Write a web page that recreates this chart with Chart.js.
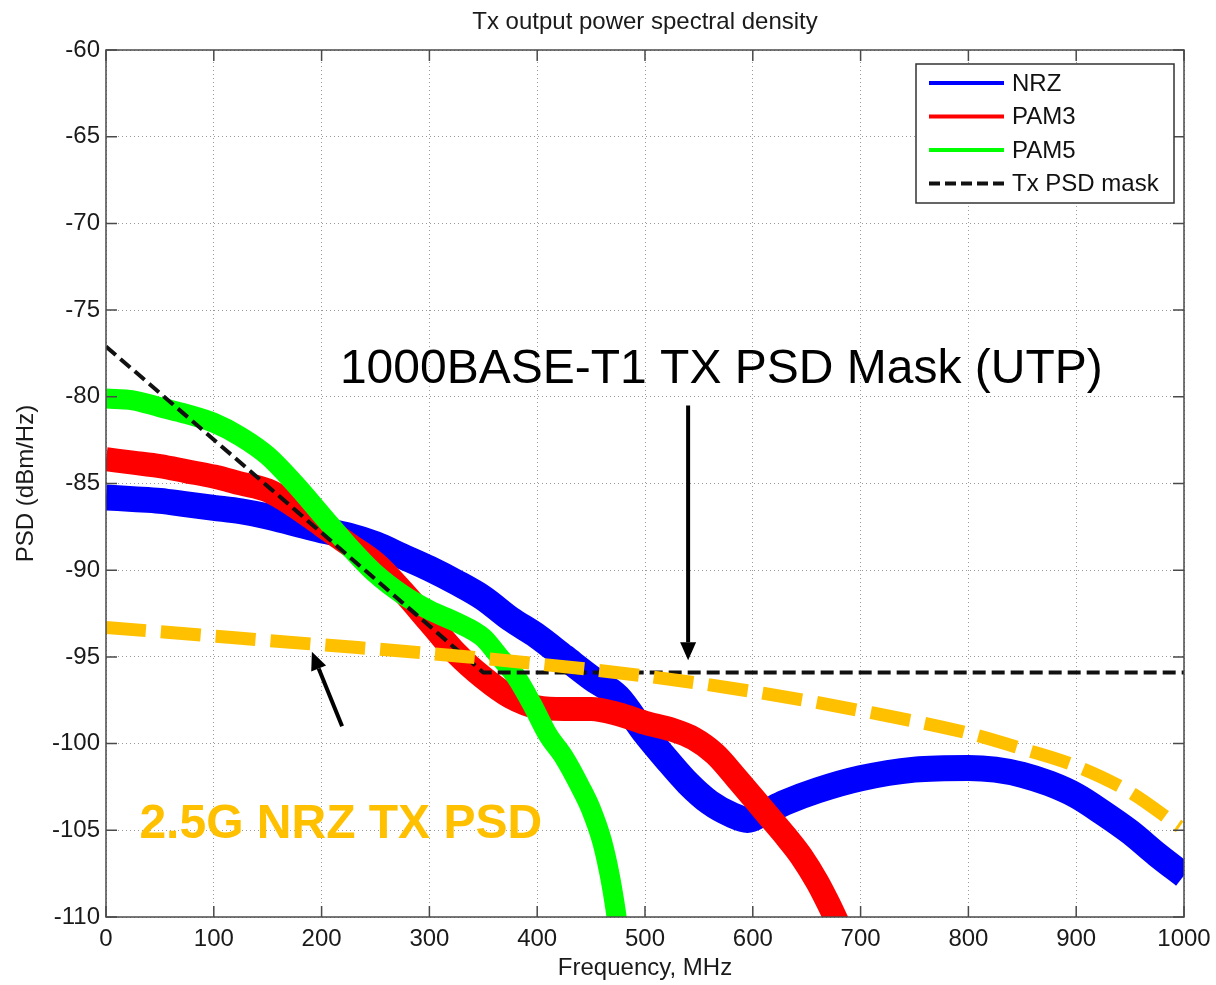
<!DOCTYPE html>
<html>
<head>
<meta charset="utf-8">
<title>Tx output power spectral density</title>
<script src="https://cdn.jsdelivr.net/npm/chart.js@4.4.1/dist/chart.umd.min.js"></script>
<style>
  body { margin: 0; background: #fff; }
  #wrap { width: 1216px; height: 985px; }
</style>
</head>
<body>
<div id="wrap"><canvas id="psdChart" width="1216" height="985"></canvas></div>
<script>
// values (MHz, dBm/Hz)
const nrzFreq = [0, 25, 50, 75, 100, 125, 150, 175, 200, 225, 250, 275, 300, 325, 350, 375, 400, 425, 450, 475, 500, 520, 540, 560, 580, 595, 610, 630, 660, 700, 750, 800, 825, 850, 875, 900, 925, 950, 975, 1000];
const nrzPsd  = [-85.8, -85.9, -86.0, -86.2, -86.4, -86.6, -86.9, -87.3, -87.7, -88.0, -88.5, -89.2, -89.9, -90.7, -91.6, -92.8, -93.8, -95.0, -96.2, -97.3, -99.4, -100.9, -102.3, -103.4, -104.1, -104.4, -104.0, -103.4, -102.7, -102.0, -101.5, -101.4, -101.5, -101.8, -102.3, -103.0, -104.0, -105.1, -106.4, -107.6];

const pam3Freq = [0, 25, 50, 75, 100, 125, 150, 175, 200, 225, 250, 275, 300, 325, 350, 375, 400, 425, 450, 475, 500, 525, 545, 565, 585, 600, 615, 630, 645, 660, 670, 680, 688];
const pam3Psd  = [-83.6, -83.8, -84.0, -84.3, -84.6, -85.0, -85.4, -86.3, -87.4, -88.5, -89.6, -91.2, -93.0, -94.8, -96.2, -97.3, -97.9, -98.0, -98.0, -98.3, -98.8, -99.2, -99.7, -100.6, -102.0, -103.1, -104.2, -105.3, -106.5, -108.0, -109.2, -110.5, -111.5];

const pam5Freq = [0, 25, 50, 75, 100, 125, 150, 175, 200, 225, 250, 275, 300, 325, 350, 365, 380, 395, 410, 425, 440, 450, 460, 467, 472, 477];
const pam5Psd  = [-80.1, -80.2, -80.6, -81.0, -81.5, -82.3, -83.4, -85.0, -86.8, -88.6, -90.2, -91.4, -92.3, -93.0, -93.9, -95.0, -96.1, -97.7, -99.5, -100.8, -102.5, -103.8, -105.6, -107.5, -109.3, -111.5];

const maskFreq = [0, 350, 1000];
const maskPsd  = [-77.1, -95.9, -95.9];

const nrz25Freq = [0, 100, 200, 300, 400, 500, 600, 700, 800, 850, 900, 950, 996];
const nrz25Psd  = [-93.3, -93.8, -94.3, -94.8, -95.4, -96.1, -97.0, -98.1, -99.4, -100.3, -101.3, -102.8, -104.8];

const xTicks = [0, 1000, 100];
const yTicks = [-110, -60, 5];

const FONT = "'Liberation Sans', Arial, Helvetica, sans-serif";

function pts(xs, ys) {
    return xs.map((x, i) => ({ x: x, y: ys[i] }));
}

function drawArrow(ctx, x1, y1, x2, y2) {
    const ang = Math.atan2(y2 - y1, x2 - x1);
    const head = 18, half = 8;
    const bx = x2 - head * Math.cos(ang);
    const by = y2 - head * Math.sin(ang);
    ctx.strokeStyle = '#000';
    ctx.fillStyle = '#000';
    ctx.lineWidth = 4;
    ctx.beginPath();
    ctx.moveTo(x1, y1);
    ctx.lineTo(bx, by);
    ctx.stroke();
    ctx.beginPath();
    ctx.moveTo(x2, y2);
    ctx.lineTo(bx + half * Math.sin(ang), by - half * Math.cos(ang));
    ctx.lineTo(bx - half * Math.sin(ang), by + half * Math.cos(ang));
    ctx.closePath();
    ctx.fill();
}

// box, inward ticks, legend and the two call-outs
const decorPlugin = {
    id: 'decor',
    afterDraw(chart) {
        const ctx = chart.ctx;
        const a = chart.chartArea;
        const xs = chart.scales.x;
        const ys = chart.scales.y;

        ctx.save();

        // title
        ctx.fillStyle = '#1a1a1a';
        ctx.font = '24px ' + FONT;
        ctx.textAlign = 'center';
        ctx.textBaseline = 'middle';
        ctx.fillText('Tx output power spectral density', (a.left + a.right) / 2, 22);

        // frame
        ctx.strokeStyle = '#4a4a4a';
        ctx.lineWidth = 1.5;
        ctx.strokeRect(a.left, a.top, a.right - a.left, a.bottom - a.top);

        // inward ticks on all four sides
        const tl = 11;
        ctx.beginPath();
        for (let v = xTicks[0]; v <= xTicks[1]; v += xTicks[2]) {
            const px = xs.getPixelForValue(v);
            ctx.moveTo(px, a.bottom); ctx.lineTo(px, a.bottom - tl);
            ctx.moveTo(px, a.top); ctx.lineTo(px, a.top + tl);
        }
        for (let v = yTicks[0]; v <= yTicks[1]; v += yTicks[2]) {
            const py = ys.getPixelForValue(v);
            ctx.moveTo(a.left, py); ctx.lineTo(a.left + tl, py);
            ctx.moveTo(a.right, py); ctx.lineTo(a.right - tl, py);
        }
        ctx.stroke();

        // legend
        const lx = 916, ly = 64, lw = 258, lh = 139;
        ctx.fillStyle = '#fff';
        ctx.fillRect(lx, ly, lw, lh);
        ctx.strokeStyle = '#333';
        ctx.lineWidth = 1.5;
        ctx.strokeRect(lx, ly, lw, lh);

        const items = chart.data.datasets.filter(d => d.inLegend).sort((p, q) => p.legendPos - q.legendPos);
        items.forEach((d, i) => {
            const cy = 83 + i * 33.5;
            ctx.strokeStyle = d.borderColor;
            ctx.lineWidth = 4;
            ctx.setLineDash(d.borderDash ? [11, 5] : []);
            ctx.beginPath();
            ctx.moveTo(929, cy); ctx.lineTo(1004, cy);
            ctx.stroke();
            ctx.setLineDash([]);
            ctx.fillStyle = '#111';
            ctx.font = '24px ' + FONT;
            ctx.textAlign = 'left';
            ctx.textBaseline = 'middle';
            ctx.fillText(d.label, 1012, cy + 1);
        });

        // call-outs
        ctx.fillStyle = '#000';
        ctx.font = '48px ' + FONT;
        ctx.textAlign = 'left';
        ctx.textBaseline = 'alphabetic';
        ctx.fillText('1000BASE-T1 TX PSD Mask (UTP)', xs.getPixelForValue(217), ys.getPixelForValue(-79.2));

        ctx.fillStyle = '#FFC000';
        ctx.font = 'bold 48px ' + FONT;
        ctx.fillText('2.5G NRZ TX PSD', xs.getPixelForValue(31), ys.getPixelForValue(-105.45));

        drawArrow(ctx, xs.getPixelForValue(540), ys.getPixelForValue(-80.5),
                       xs.getPixelForValue(540), ys.getPixelForValue(-95.2));
        drawArrow(ctx, xs.getPixelForValue(219), ys.getPixelForValue(-99.0),
                       xs.getPixelForValue(191), ys.getPixelForValue(-94.7));

        ctx.restore();
    }
};

const ctx = document.getElementById('psdChart').getContext('2d');

new Chart(ctx, {
    type: 'line',
    data: {
        datasets: [
            {
                label: '2.5G NRZ TX PSD', data: pts(nrz25Freq, nrz25Psd),
                borderColor: '#FFC000', borderWidth: 13, borderDash: [40, 15], borderCapStyle: 'butt',
                cubicInterpolationMode: 'monotone', order: 0, inLegend: false
            },
            {
                label: 'Tx PSD mask', data: pts(maskFreq, maskPsd),
                borderColor: '#111', borderWidth: 4, borderDash: [13, 6], borderCapStyle: 'butt',
                tension: 0, order: 1, inLegend: true, legendPos: 3
            },
            {
                label: 'PAM5', data: pts(pam5Freq, pam5Psd),
                borderColor: '#00FF00', borderWidth: 20, cubicInterpolationMode: 'monotone',
                order: 2, inLegend: true, legendPos: 2
            },
            {
                label: 'PAM3', data: pts(pam3Freq, pam3Psd),
                borderColor: '#FF0000', borderWidth: 24, cubicInterpolationMode: 'monotone',
                order: 3, inLegend: true, legendPos: 1
            },
            {
                label: 'NRZ', data: pts(nrzFreq, nrzPsd),
                borderColor: '#0000FF', borderWidth: 26, cubicInterpolationMode: 'monotone',
                order: 4, inLegend: true, legendPos: 0
            }
        ]
    },
    options: {
        responsive: false,
        animation: false,
        clip: 0,
        elements: { point: { radius: 0 }, line: { borderJoinStyle: 'round' } },
        layout: { padding: { top: 50, right: 32, left: 0, bottom: 0 } },
        plugins: {
            legend: { display: false },
            tooltip: { enabled: false },
            title: { display: false }
        },
        scales: {
            x: {
                type: 'linear',
                min: xTicks[0], max: xTicks[1],
                afterFit: s => { s.height = 68; s.paddingLeft = 0; s.paddingRight = 0; },
                ticks: { stepSize: xTicks[2], callback: v => String(v), color: '#1a1a1a', font: { family: FONT, size: 24 }, padding: 8, maxRotation: 0 },
                grid: { color: '#9a9a9a', lineWidth: 1, drawTicks: false },
                border: { display: false, dash: [1, 3] },
                title: { display: true, text: 'Frequency, MHz', color: '#1a1a1a', font: { family: FONT, size: 24 }, padding: { top: 0, bottom: 2 } }
            },
            y: {
                min: yTicks[0], max: yTicks[1],
                afterFit: s => { s.width = 106; s.paddingTop = 0; s.paddingBottom = 0; },
                ticks: { stepSize: yTicks[2], callback: v => String(v), color: '#1a1a1a', font: { family: FONT, size: 24 }, padding: 6 },
                grid: { color: '#9a9a9a', lineWidth: 1, drawTicks: false },
                border: { display: false, dash: [1, 3] },
                title: { display: true, text: 'PSD (dBm/Hz)', color: '#1a1a1a', font: { family: FONT, size: 24 }, padding: { top: 12, bottom: 0 } }
            }
        }
    },
    plugins: [decorPlugin]
});
</script>
</body>
</html>
